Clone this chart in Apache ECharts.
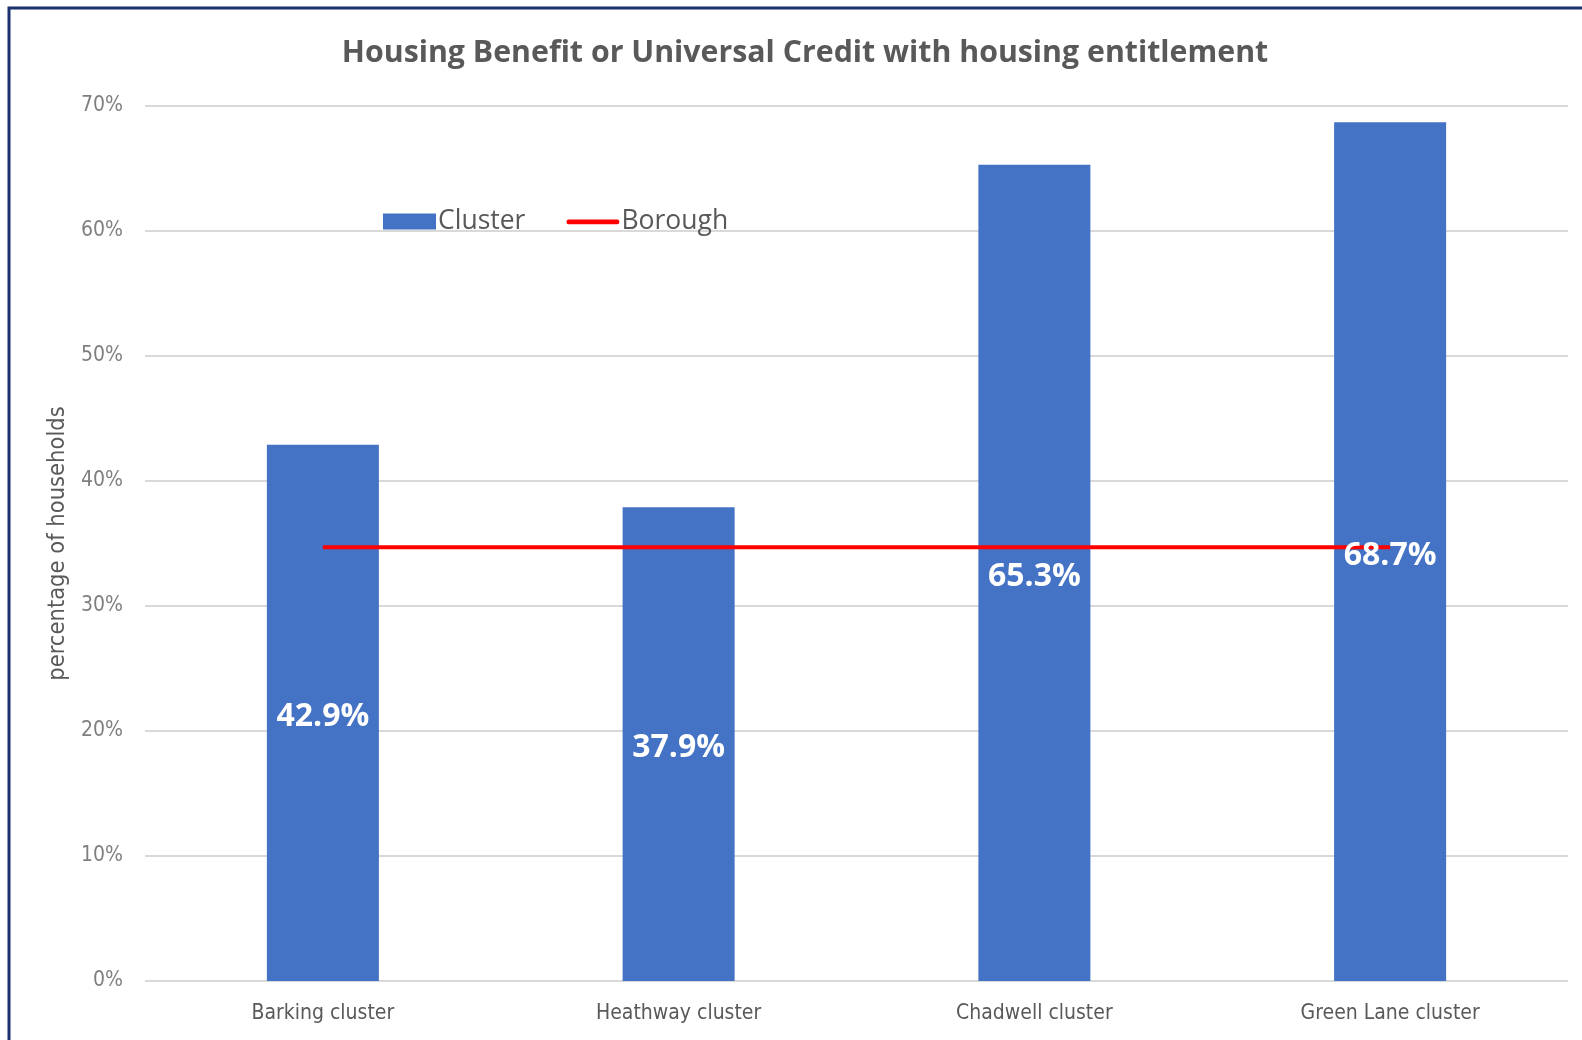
<!DOCTYPE html>
<html>
<head>
<meta charset="utf-8">
<script src="https://cdn.jsdelivr.net/npm/echarts@6/dist/echarts.min.js"></script>
<style>
html,body{margin:0;padding:0;background:#fff;}
#main{width:1582px;height:1040px;}
</style>
</head>
<body>
<div id="main"></div>
<script>
// 数据
var categories = ['Barking cluster', 'Heathway cluster', 'Chadwell cluster', 'Green Lane cluster'];
var clusterValues = [42.9, 37.9, 65.3, 68.7];
var boroughValues = [34.7, 34.7, 34.7, 34.7];
var yMin = 0, yMax = 70, yStep = 10;

var narrowFont = "'Liberation Sans Narrow', 'DejaVu Sans Condensed', sans-serif";
var mainFont = "'Open Sans', 'Noto Sans', sans-serif";

var myChart = echarts.init(document.getElementById('main'));

var option = {
    animation: false,
    backgroundColor: '#ffffff',
    title: {
        text: 'Housing Benefit or Universal Credit with housing entitlement',
        left: 800,
        textAlign: 'center',
        top: 33,
        textStyle: {
            fontFamily: mainFont,
            fontSize: 30.3,
            fontWeight: 'bold',
            color: '#595959'
        }
    },
    graphic: [{
        type: 'rect',
        shape: {x: 9, y: 8, width: 1640, height: 1100},
        style: {fill: 'none', stroke: '#1b3170', lineWidth: 3},
        silent: true
    }],
    legend: {
        data: [
            {name: 'Cluster', icon: 'rect'},
            // 细红线图例，上下留空保持线条粗细
            {name: 'Borough', icon: 'path://M0,0 M54,16 M1.5,6 L52.5,6 A2.5,2.5 0 0 1 52.5,11 L1.5,11 A2.5,2.5 0 0 1 1.5,6 Z'}
        ],
        left: 378,
        top: 203,
        itemWidth: 53,
        itemHeight: 16,
        itemGap: 41,
        textStyle: {
            fontFamily: mainFont,
            fontSize: 26.5,
            color: '#595959',
            padding: [0, 0, 0, -3]
        }
    },
    grid: {
        left: 145,
        right: 14,
        top: 106,
        bottom: 59,
        containLabel: false
    },
    xAxis: {
        type: 'category',
        data: categories,
        axisLine: {show: false},
        axisTick: {show: false},
        axisLabel: {
            margin: 22,
            fontFamily: narrowFont,
            fontSize: 21,
            color: '#595959'
        }
    },
    yAxis: {
        type: 'value',
        min: yMin,
        max: yMax,
        interval: yStep,
        name: 'percentage of households',
        nameLocation: 'middle',
        nameGap: 73,
        nameTextStyle: {
            fontFamily: narrowFont,
            fontSize: 23.5,
            color: '#595959'
        },
        axisLine: {show: false},
        axisTick: {show: false},
        axisLabel: {
            margin: 22,
            formatter: '{value}%',
            fontFamily: narrowFont,
            fontSize: 21,
            color: '#7f7f7f'
        },
        splitLine: {
            lineStyle: {color: '#d9d9d9', width: 2}
        }
    },
    series: [{
        name: 'Cluster',
        type: 'bar',
        data: clusterValues,
        barWidth: 112,
        barGap: '-100%',
        z: 2,
        itemStyle: {color: '#4472c4'}
    }, {
        name: 'Borough',
        type: 'line',
        data: boroughValues,
        symbol: 'none',
        z: 3,
        lineStyle: {color: '#ff0000', width: 4},
        itemStyle: {color: '#ff0000'}
    }, {
        // 标签单独放一层，压在红线上面
        name: 'ClusterLabel',
        type: 'bar',
        data: clusterValues,
        barWidth: 112,
        barGap: '-100%',
        z: 4,
        silent: true,
        itemStyle: {color: 'rgba(0,0,0,0)'},
        label: {
            show: true,
            position: 'inside',
            offset: [0, 4],
            formatter: function (p) { return p.value.toFixed(1) + '%'; },
            fontFamily: mainFont,
            fontSize: 32,
            fontWeight: 'bold',
            color: '#ffffff'
        }
    }]
};

myChart.setOption(option);
</script>
</body>
</html>
